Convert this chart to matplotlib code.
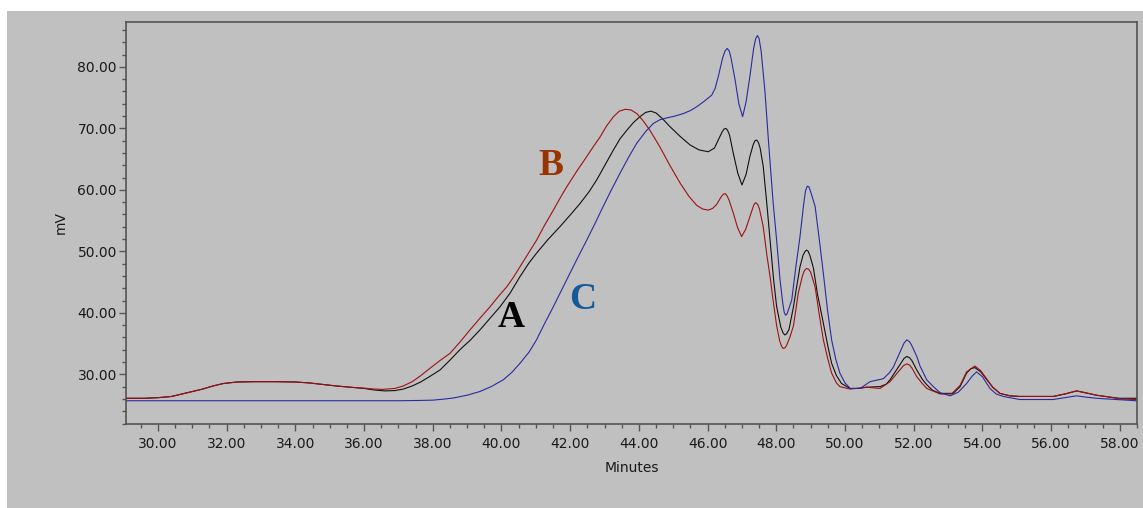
import matplotlib.pyplot as plt
from matplotlib.patches import Rectangle
from matplotlib.ticker import MultipleLocator, FormatStrFormatter

# --- data (minutes, mV) ---
a_min = [29.07, 29.6, 30.0, 30.4, 30.7, 31.0, 31.3, 31.6, 31.9, 32.3, 32.8, 33.4, 34.0, 34.4,
         34.8, 35.2, 35.6, 36.0, 36.3, 36.6, 36.9, 37.14, 37.4, 37.63, 37.9, 38.21, 38.5, 38.79,
         39.1, 39.37, 39.65, 39.96, 40.25, 40.54, 40.8, 41.02, 41.35, 41.7, 42.0, 42.29, 42.55,
         42.77, 43.0, 43.26, 43.45, 43.65, 43.85, 44.03, 44.2, 44.35, 44.5, 44.7, 44.9, 45.2,
         45.49, 45.75, 46.02, 46.2, 46.31, 46.42, 46.48, 46.53, 46.58, 46.64, 46.75, 46.88, 47.0,
         47.12, 47.23, 47.33, 47.38, 47.43, 47.48, 47.53, 47.62, 47.72, 47.82, 47.92, 48.01, 48.13,
         48.2, 48.25, 48.3, 48.37, 48.5, 48.6, 48.69, 48.78, 48.84, 48.88, 48.93, 48.98, 49.08,
         49.2, 49.37, 49.5, 49.61, 49.75, 49.9, 50.15, 50.4, 50.63, 51.02, 51.2, 51.31, 51.45,
         51.6, 51.72, 51.8, 51.88, 51.95, 52.09, 52.25, 52.38, 52.55, 52.77, 53.15, 53.35, 53.54,
         53.66, 53.78, 53.95, 54.13, 54.3, 54.51, 54.8, 55.09, 55.6, 56.06, 56.4, 56.74, 57.0,
         57.32, 57.7, 57.99, 58.48]
a_mv = [26.1, 26.1, 26.2, 26.4, 26.8, 27.2, 27.6, 28.1, 28.5, 28.75, 28.8, 28.8, 28.75, 28.6,
        28.35, 28.1, 27.9, 27.7, 27.45, 27.3, 27.35, 27.6, 28.1, 28.7, 29.6, 30.7, 32.3, 34.0,
        35.6, 37.2, 39.0, 41.0, 43.2, 45.9, 48.1, 49.7, 51.9, 54.0, 55.9, 57.8, 59.7,
        61.6, 63.9, 66.5, 68.3, 69.7, 71.0, 71.9, 72.6, 72.8, 72.5, 71.5, 70.3, 68.7,
        67.3, 66.5, 66.2, 66.8, 68.1, 69.4, 69.9, 70.0, 69.7, 68.9, 65.9, 62.7, 60.8,
        62.5, 65.4, 67.4, 68.0, 68.1, 67.7, 66.8, 63.8, 58.0, 51.8, 45.5, 41.0, 37.7,
        36.7, 36.4, 36.6, 37.3, 41.0, 44.5, 47.5, 49.4, 50.0, 50.2, 50.0, 49.3, 47.3,
        43.0, 38.3, 34.6, 31.8, 29.8, 28.5, 27.7, 27.7, 27.9, 28.0, 28.4, 29.1, 30.3,
        31.6, 32.6, 32.9, 32.7, 32.2, 30.7, 29.2, 28.3, 27.4, 26.9, 26.9, 28.0, 30.2,
        30.9, 31.1, 30.4, 29.1, 27.9, 26.9, 26.5, 26.4, 26.4, 26.4, 26.8, 27.3, 27.0,
        26.6, 26.3, 26.1, 26.1]

b_min = [29.07, 29.6, 30.0, 30.4, 30.7, 31.0, 31.3, 31.6, 31.9, 32.3, 32.8, 33.4, 34.0, 34.4,
         34.8, 35.2, 35.6, 36.0, 36.3, 36.55, 36.9, 37.14, 37.4, 37.63, 37.9, 38.2, 38.5, 38.8,
         39.08, 39.37, 39.67, 39.9, 40.15, 40.35, 40.54, 40.8, 41.02, 41.25, 41.51, 41.7, 41.9,
         42.2, 42.48, 42.67, 42.87, 43.06, 43.26, 43.43, 43.6, 43.77, 43.94, 44.13, 44.32, 44.61,
         44.9, 45.2, 45.45, 45.68, 45.85, 46.02, 46.15, 46.26, 46.4, 46.46, 46.51, 46.56, 46.62,
         46.75, 46.87, 46.99, 47.11, 47.23, 47.33, 47.37, 47.41, 47.46, 47.51, 47.62, 47.72, 47.82,
         47.92, 48.01, 48.1, 48.15, 48.2, 48.25, 48.3, 48.4, 48.5, 48.64, 48.76, 48.82, 48.88,
         48.94, 49.0, 49.13, 49.27, 49.37, 49.5, 49.61, 49.75, 49.85, 50.15, 50.63, 51.02, 51.31,
         51.55, 51.7, 51.8, 51.88, 51.95, 52.09, 52.25, 52.38, 52.77, 53.1, 53.35, 53.54, 53.78,
         53.95, 54.13, 54.3, 54.51, 54.8, 55.09, 56.06, 56.4, 56.74, 57.0, 57.32, 57.7, 58.0,
         58.48]
b_mv = [26.1, 26.1, 26.2, 26.4, 26.8, 27.2, 27.6, 28.1, 28.5, 28.75, 28.8, 28.8, 28.75, 28.6,
        28.35, 28.1, 27.9, 27.75, 27.6, 27.55, 27.7, 28.1, 28.8, 29.7, 30.9, 32.2, 33.4, 35.3,
        37.2, 39.1, 41.0, 42.6, 44.2, 45.8, 47.5, 49.8, 51.8, 54.2, 56.7, 58.6, 60.5,
        63.1, 65.4, 67.0, 68.6, 70.4, 71.9, 72.8, 73.1, 73.0, 72.4, 71.2, 69.7, 67.0,
        64.0, 61.1, 59.0, 57.5, 56.9, 56.7, 57.0, 57.6, 58.9, 59.3, 59.4, 59.1, 58.4,
        56.2, 53.9, 52.4, 53.6, 55.6, 57.3, 57.8, 57.9, 57.6, 56.9, 54.0, 49.6, 45.8,
        41.5, 37.9, 35.4, 34.6, 34.2, 34.3, 34.7, 36.1, 37.9, 43.2, 46.0, 46.9, 47.2,
        47.1, 46.6, 44.2, 39.0, 35.6, 32.5, 30.2, 28.6, 28.0, 27.6, 27.9, 27.7, 28.8,
        30.4, 31.4, 31.7, 31.5, 31.0, 29.6, 28.5, 27.7, 26.8, 26.8, 28.2, 30.4, 31.35,
        30.6, 29.2, 27.9, 26.9, 26.5, 26.4, 26.4, 26.8, 27.3, 27.0, 26.6, 26.3, 26.0,
        25.9]

c_min = [29.07, 31.0, 34.0, 37.0, 37.63, 38.0, 38.3, 38.6, 39.0, 39.37, 39.7, 40.05, 40.3,
         40.54, 40.8, 41.02, 41.25, 41.51, 41.75, 41.99, 42.25, 42.48, 42.72, 42.96, 43.2, 43.45,
         43.7, 43.94, 44.2, 44.42, 44.61, 44.81, 45.05, 45.29, 45.5, 45.68, 45.9, 46.12, 46.22,
         46.31, 46.44, 46.51, 46.57, 46.63, 46.68, 46.8, 46.91, 47.02, 47.12, 47.23, 47.34, 47.4,
         47.45, 47.5, 47.56, 47.67, 47.77, 47.91, 48.01, 48.11, 48.19, 48.23, 48.27, 48.31, 48.36,
         48.45, 48.57, 48.69, 48.8, 48.85, 48.9, 48.95, 49.0, 49.13, 49.25, 49.37, 49.49, 49.61,
         49.73, 49.85, 50.0, 50.15, 50.44, 50.73, 51.12, 51.3, 51.41, 51.6, 51.72, 51.8, 51.88,
         51.95, 52.09, 52.18, 52.38, 52.57, 52.77, 53.06, 53.3, 53.54, 53.7, 53.83, 54.0, 54.22,
         54.4, 54.61, 55.09, 56.06, 56.4, 56.74, 57.0, 57.32, 57.9, 58.48]
c_mv = [25.7, 25.7, 25.7, 25.7, 25.75, 25.8, 25.95, 26.15, 26.6, 27.2, 28.0, 29.1, 30.3,
        31.8, 33.6, 35.6, 38.2, 41.0, 43.7, 46.4, 49.3, 51.8, 54.5, 57.3, 60.0, 62.7,
        65.3, 67.6, 69.5, 70.8, 71.4, 71.7, 72.0, 72.4, 72.9, 73.5, 74.4, 75.4, 76.5,
        78.4, 81.5, 82.6, 83.0, 82.6, 81.5, 77.9, 74.0, 71.9, 74.3, 78.4, 83.0, 84.6,
        85.1, 84.6, 82.5, 76.0, 68.1, 57.8, 51.8, 45.3, 41.5, 40.1, 39.6, 39.8, 40.6,
        42.1, 47.5, 52.4, 57.8, 59.8, 60.6, 60.5, 59.7, 57.3, 52.0, 46.4, 40.5, 35.6,
        32.5, 30.2, 28.6, 27.7, 27.7, 28.8, 29.3, 30.3, 31.2, 33.6, 35.1, 35.6, 35.3,
        34.6, 32.9, 31.4, 29.1, 28.0, 27.0, 26.5, 27.1, 28.5, 29.7, 30.4, 29.6, 27.7,
        26.8, 26.4, 25.9, 25.9, 26.2, 26.5, 26.3, 26.1, 25.9, 25.7]

# sample labels placed on the chart
labels = ["A", "B", "C"]
label_pos = [(40.28, 39.3), (41.44, 64.0), (42.37, 42.2)]
label_colors = ["#000000", "#993300", "#145a96"]

bg = "#c0c0c0"
spine_c = "#555555"

fig = plt.figure(figsize=(11.43, 5.08), dpi=100)
fig.patch.set_facecolor("white")
fig.patches.append(Rectangle((7 / 1143, 0), 1, 497 / 508, transform=fig.transFigure,
                             facecolor=bg, edgecolor="none", zorder=-10))

ax = fig.add_axes([126 / 1143, 84.5 / 508, 1011 / 1143, 401.5 / 508])
ax.set_facecolor(bg)

ax.plot(a_min, a_mv, color="#101010", lw=0.8)
ax.plot(b_min, b_mv, color="#a01010", lw=0.8)
ax.plot(c_min, c_mv, color="#2a2aa0", lw=0.8)

for t, (x, y), c in zip(labels, label_pos, label_colors):
    ax.text(x, y, t, color=c, fontsize=27, fontweight="bold", family="Liberation Serif",
            ha="center", va="center")

ax.set_xlim(29.07, 58.5)
ax.set_ylim(22.0, 87.3)

ax.xaxis.set_major_locator(MultipleLocator(2))
ax.xaxis.set_minor_locator(MultipleLocator(0.5))
ax.yaxis.set_major_locator(MultipleLocator(10))
ax.yaxis.set_minor_locator(MultipleLocator(2))
ax.xaxis.set_major_formatter(FormatStrFormatter("%.2f"))
ax.yaxis.set_major_formatter(FormatStrFormatter("%.2f"))

for s in ax.spines.values():
    s.set_color(spine_c)
    s.set_linewidth(1.2)

ax.tick_params(which="major", length=5, width=1, color=spine_c, labelsize=10,
               labelcolor="#1a1a1a", direction="out")
ax.tick_params(which="minor", length=3, width=1, color=spine_c, direction="out")
ax.tick_params(axis="y", which="major", pad=1.5)
ax.tick_params(axis="x", which="major", pad=5)

ax.set_xlabel("Minutes", fontsize=10, color="#1a1a1a", labelpad=7)
ax.set_ylabel("mV", fontsize=10, color="#1a1a1a", labelpad=7)

fig.savefig("out.png", dpi=100, facecolor=fig.get_facecolor())
